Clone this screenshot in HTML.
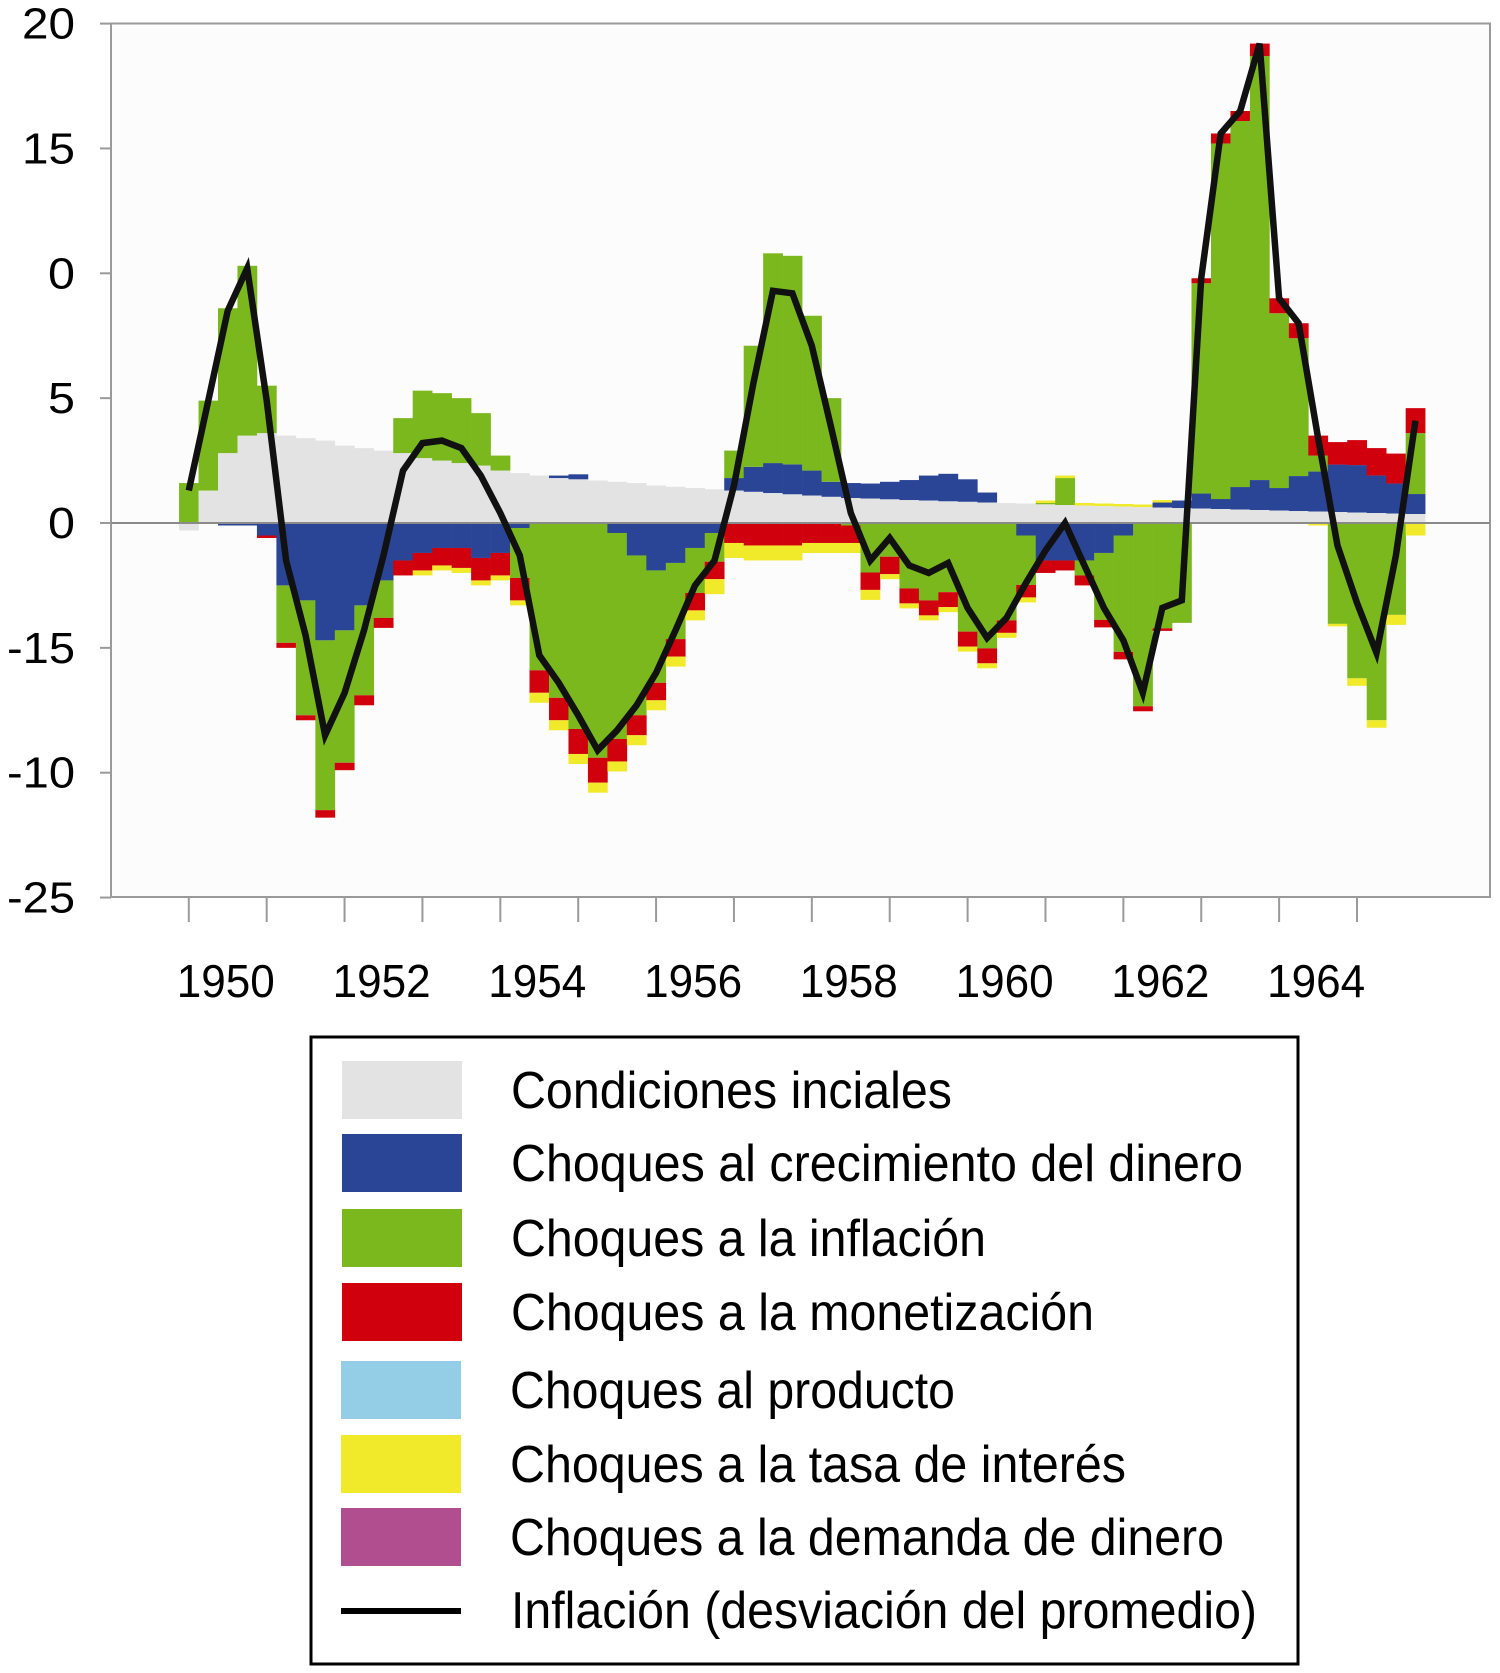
<!DOCTYPE html>
<html><head><meta charset="utf-8"><style>
html,body{margin:0;padding:0;background:#fff;}
svg{display:block;}
text{font-family:"Liberation Sans",sans-serif;fill:#000;}
</style></head><body>
<svg id="chart" width="1500" height="1673" viewBox="0 0 1500 1673" xmlns="http://www.w3.org/2000/svg">
<rect x="111" y="23.5" width="1379" height="873.5" fill="#fcfcfc" stroke="#9a9a9a" stroke-width="2"/>
<g id="bars"></g>
<line x1="111" x2="1490" y1="523" y2="523" stroke="#8a8a8a" stroke-width="2"/>
<g id="lineg"></g>
<g id="yaxis"></g>
<g id="xaxis"></g>
<g>
<rect x="311" y="1037" width="987" height="627" fill="#fff" stroke="#000" stroke-width="3"/>
<g><rect x="342" y="1061" width="120" height="58" fill="#e3e3e3"/><text x="511" y="1108" font-size="52" textLength="441" lengthAdjust="spacingAndGlyphs">Condiciones inciales</text></g>
<g><rect x="342" y="1134" width="120" height="58" fill="#2b4596"/><text x="511" y="1181" font-size="52" textLength="732" lengthAdjust="spacingAndGlyphs">Choques al crecimiento del dinero</text></g>
<g><rect x="342" y="1209" width="120" height="58" fill="#7ab81e"/><text x="511" y="1256" font-size="52" textLength="475" lengthAdjust="spacingAndGlyphs">Choques a la inflación</text></g>
<g><rect x="342" y="1283" width="120" height="58" fill="#d0000d"/><text x="511" y="1330" font-size="52" textLength="583" lengthAdjust="spacingAndGlyphs">Choques a la monetización</text></g>
<g><rect x="341" y="1361" width="120" height="58" fill="#93cde6"/><text x="510" y="1408" font-size="52" textLength="445" lengthAdjust="spacingAndGlyphs">Choques al producto</text></g>
<g><rect x="341" y="1435" width="120" height="58" fill="#f0ea2a"/><text x="510" y="1482" font-size="52" textLength="616" lengthAdjust="spacingAndGlyphs">Choques a la tasa de interés</text></g>
<g><rect x="341" y="1508" width="120" height="58" fill="#b04e8f"/><text x="510" y="1555" font-size="52" textLength="714" lengthAdjust="spacingAndGlyphs">Choques a la demanda de dinero</text></g>
<g><rect x="341" y="1608" width="120" height="6" fill="#000"/><text x="511" y="1628" font-size="52" textLength="746" lengthAdjust="spacingAndGlyphs">Inflación (desviación del promedio)</text></g>
</g>
</svg>
<script>
const inflation=[1.3,4.9,8.5,10.2,4.9,-1.5,-4.5,-8.5,-6.8,-4.3,-1.3,2.1,3.2,3.3,3.0,1.9,0.4,-1.3,-5.3,-6.4,-7.7,-9.1,-8.3,-7.3,-6.0,-4.3,-2.5,-1.5,1.5,5.6,9.3,9.2,7.1,3.8,0.4,-1.5,-0.6,-1.7,-2.0,-1.6,-3.4,-4.6,-3.8,-2.4,-1.1,0,-1.7,-3.4,-4.7,-6.8,-3.4,-3.1,9.8,15.6,16.5,19.2,9.0,8.0,3.4,-0.9,-3.2,-5.2,-1.3,4.1];
const initialCond=[-0.3,1.3,2.8,3.5,3.6,3.5,3.4,3.3,3.1,3.0,2.9,2.8,2.6,2.5,2.4,2.3,2.1,2.0,1.9,1.8,1.75,1.7,1.65,1.6,1.5,1.45,1.4,1.35,1.3,1.25,1.2,1.15,1.1,1.05,1.0,0.98,0.95,0.92,0.9,0.87,0.85,0.82,0.8,0.78,0.75,0.72,0.7,0.68,0.66,0.64,0.62,0.6,0.58,0.56,0.54,0.52,0.5,0.48,0.46,0.44,0.42,0.4,0.38,0.36];
const moneyShock=[0,0,-0.1,-0.1,-0.5,-2.5,-3.1,-4.7,-4.3,-3.3,-2.3,-1.5,-1.2,-1.0,-1.0,-1.4,-1.2,-0.2,0,0.1,0.2,0,-0.4,-1.3,-1.9,-1.6,-1.0,-0.4,0.5,1.0,1.2,1.2,1.0,0.6,0.6,0.6,0.7,0.8,1.0,1.1,0.9,0.4,0,-0.5,-1.5,-1.5,-1.5,-1.2,-0.5,0,0.2,0.3,0.6,0.4,0.9,1.2,0.9,1.4,1.6,1.9,1.9,1.5,1.2,0.8];
const inflShock=[1.6,3.6,5.8,6.8,1.9,-2.3,-4.6,-6.8,-5.3,-3.6,-1.5,1.4,2.7,2.7,2.6,2.1,0.6,-2.0,-5.9,-7.0,-8.25,-9.4,-8.25,-6.4,-4.5,-3.05,-1.8,-1.15,1.1,4.85,8.4,8.35,6.2,3.35,-0.1,-1.98,-1.35,-2.62,-3.1,-2.77,-4.35,-5.02,-3.9,-1.98,0.05,1.08,-0.6,-2.68,-4.66,-7.34,-4.22,-4.0,8.42,14.24,14.66,16.98,7.0,5.52,0.64,-4.04,-6.22,-7.9,-3.68,2.44];
const monetShock=[0,0,0,0,-0.1,-0.2,-0.2,-0.3,-0.3,-0.4,-0.4,-0.6,-0.7,-0.7,-0.8,-0.9,-0.9,-0.9,-0.9,-0.9,-1.0,-1.0,-0.9,-0.8,-0.7,-0.7,-0.7,-0.7,-0.8,-0.9,-0.9,-0.9,-0.8,-0.8,-0.7,-0.7,-0.7,-0.6,-0.6,-0.6,-0.6,-0.6,-0.5,-0.5,-0.5,-0.4,-0.4,-0.3,-0.3,-0.2,-0.1,0,0.2,0.4,0.4,0.5,0.6,0.6,0.8,0.9,1.0,1.1,1.2,1.0];
const rateShock=[0,0,0,0,0,0,0,0,0,0,0,0,-0.2,-0.2,-0.2,-0.2,-0.2,-0.2,-0.4,-0.4,-0.4,-0.4,-0.4,-0.4,-0.4,-0.4,-0.4,-0.6,-0.6,-0.6,-0.6,-0.6,-0.4,-0.4,-0.4,-0.4,-0.2,-0.2,-0.2,-0.2,-0.2,-0.2,-0.2,-0.2,0.1,0.1,0.1,0.1,0.1,0.1,0.1,0,0,0,0,0,0,0,-0.1,-0.1,-0.3,-0.3,-0.4,-0.5];
const yTickValues=[20,15,10,5,0,-5,-10,-15];
const yTickLabels=["20","15","0","5","0","-15","-10","-25"];
const yearLabels=["1950","1952","1954","1956","1958","1960","1962","1964"];

const NS="http://www.w3.org/2000/svg";
const x0=188.8, dx=19.47, zeroY=523, unit=24.97;
function xPos(i){return x0+dx*i;}
function yPos(v){return zeroY-v*unit;}
const series=[[initialCond,"#e3e3e3","bar-initial"],[moneyShock,"#2b4596","bar-money"],[inflShock,"#7ab81e","bar-inflation"],[monetShock,"#d0000d","bar-monetization"],[rateShock,"#f0ea2a","bar-interest"]];
const barsG=document.getElementById("bars");
for(let i=0;i<inflation.length;i++){
  let pos=0,neg=0;
  for(const [arr,col,nm] of series){
    const v=arr[i]; if(!v) continue;
    let a,b;
    if(v>0){a=pos;b=pos+v;pos=b;}else{a=neg;b=neg+v;neg=b;}
    const r=document.createElementNS(NS,"rect");
    r.setAttribute("x",(xPos(i)-dx/2).toFixed(2));
    r.setAttribute("width",(dx+0.3).toFixed(2));
    const y1=yPos(Math.max(a,b)),y2=yPos(Math.min(a,b));
    r.setAttribute("y",y1.toFixed(2));
    r.setAttribute("height",(y2-y1).toFixed(2));
    r.setAttribute("fill",col);
    
    
    barsG.appendChild(r);
  }
}
const pl=document.createElementNS(NS,"polyline");
pl.setAttribute("points",inflation.map((v,i)=>xPos(i).toFixed(1)+","+yPos(v).toFixed(1)).join(" "));
pl.setAttribute("fill","none");pl.setAttribute("stroke","#111");pl.setAttribute("stroke-width","6.5");pl.setAttribute("stroke-linejoin","miter");


document.getElementById("lineg").appendChild(pl);
const ya=document.getElementById("yaxis");
yTickValues.forEach((v,k)=>{
  const t=document.createElementNS(NS,"text");
  t.setAttribute("x","75");t.setAttribute("y",(yPos(v)+15).toFixed(1));
  t.setAttribute("text-anchor","end");t.setAttribute("font-size","44");
  const lbl=yTickLabels[k];
  t.setAttribute("textLength",lbl.length===1?27:(lbl.length===2?53:68));
  t.setAttribute("lengthAdjust","spacingAndGlyphs");
  t.textContent=lbl;
  
  
  ya.appendChild(t);
  const l=document.createElementNS(NS,"line");
  l.setAttribute("x1","100");l.setAttribute("x2","111");l.setAttribute("y1",yPos(v));l.setAttribute("y2",yPos(v));
  l.setAttribute("stroke","#9a9a9a");l.setAttribute("stroke-width","2");
  
  
  ya.appendChild(l);
});
const xa=document.getElementById("xaxis");
for(let yr=0;yr<16;yr++){
  const x=xPos(yr*4);
  const l=document.createElementNS(NS,"line");
  l.setAttribute("x1",x);l.setAttribute("x2",x);l.setAttribute("y1","897");l.setAttribute("y2","922");
  l.setAttribute("stroke","#9a9a9a");l.setAttribute("stroke-width","2");
  
  
  xa.appendChild(l);
}
yearLabels.forEach((lbl,k)=>{
  const t=document.createElementNS(NS,"text");
  t.setAttribute("x",(xPos(k*8)+37).toFixed(1));t.setAttribute("y","997");
  t.setAttribute("text-anchor","middle");t.setAttribute("font-size","46");
  t.setAttribute("textLength","98");t.setAttribute("lengthAdjust","spacingAndGlyphs");
  t.textContent=lbl;
  
  
  xa.appendChild(t);
});
</script>
</body></html>
